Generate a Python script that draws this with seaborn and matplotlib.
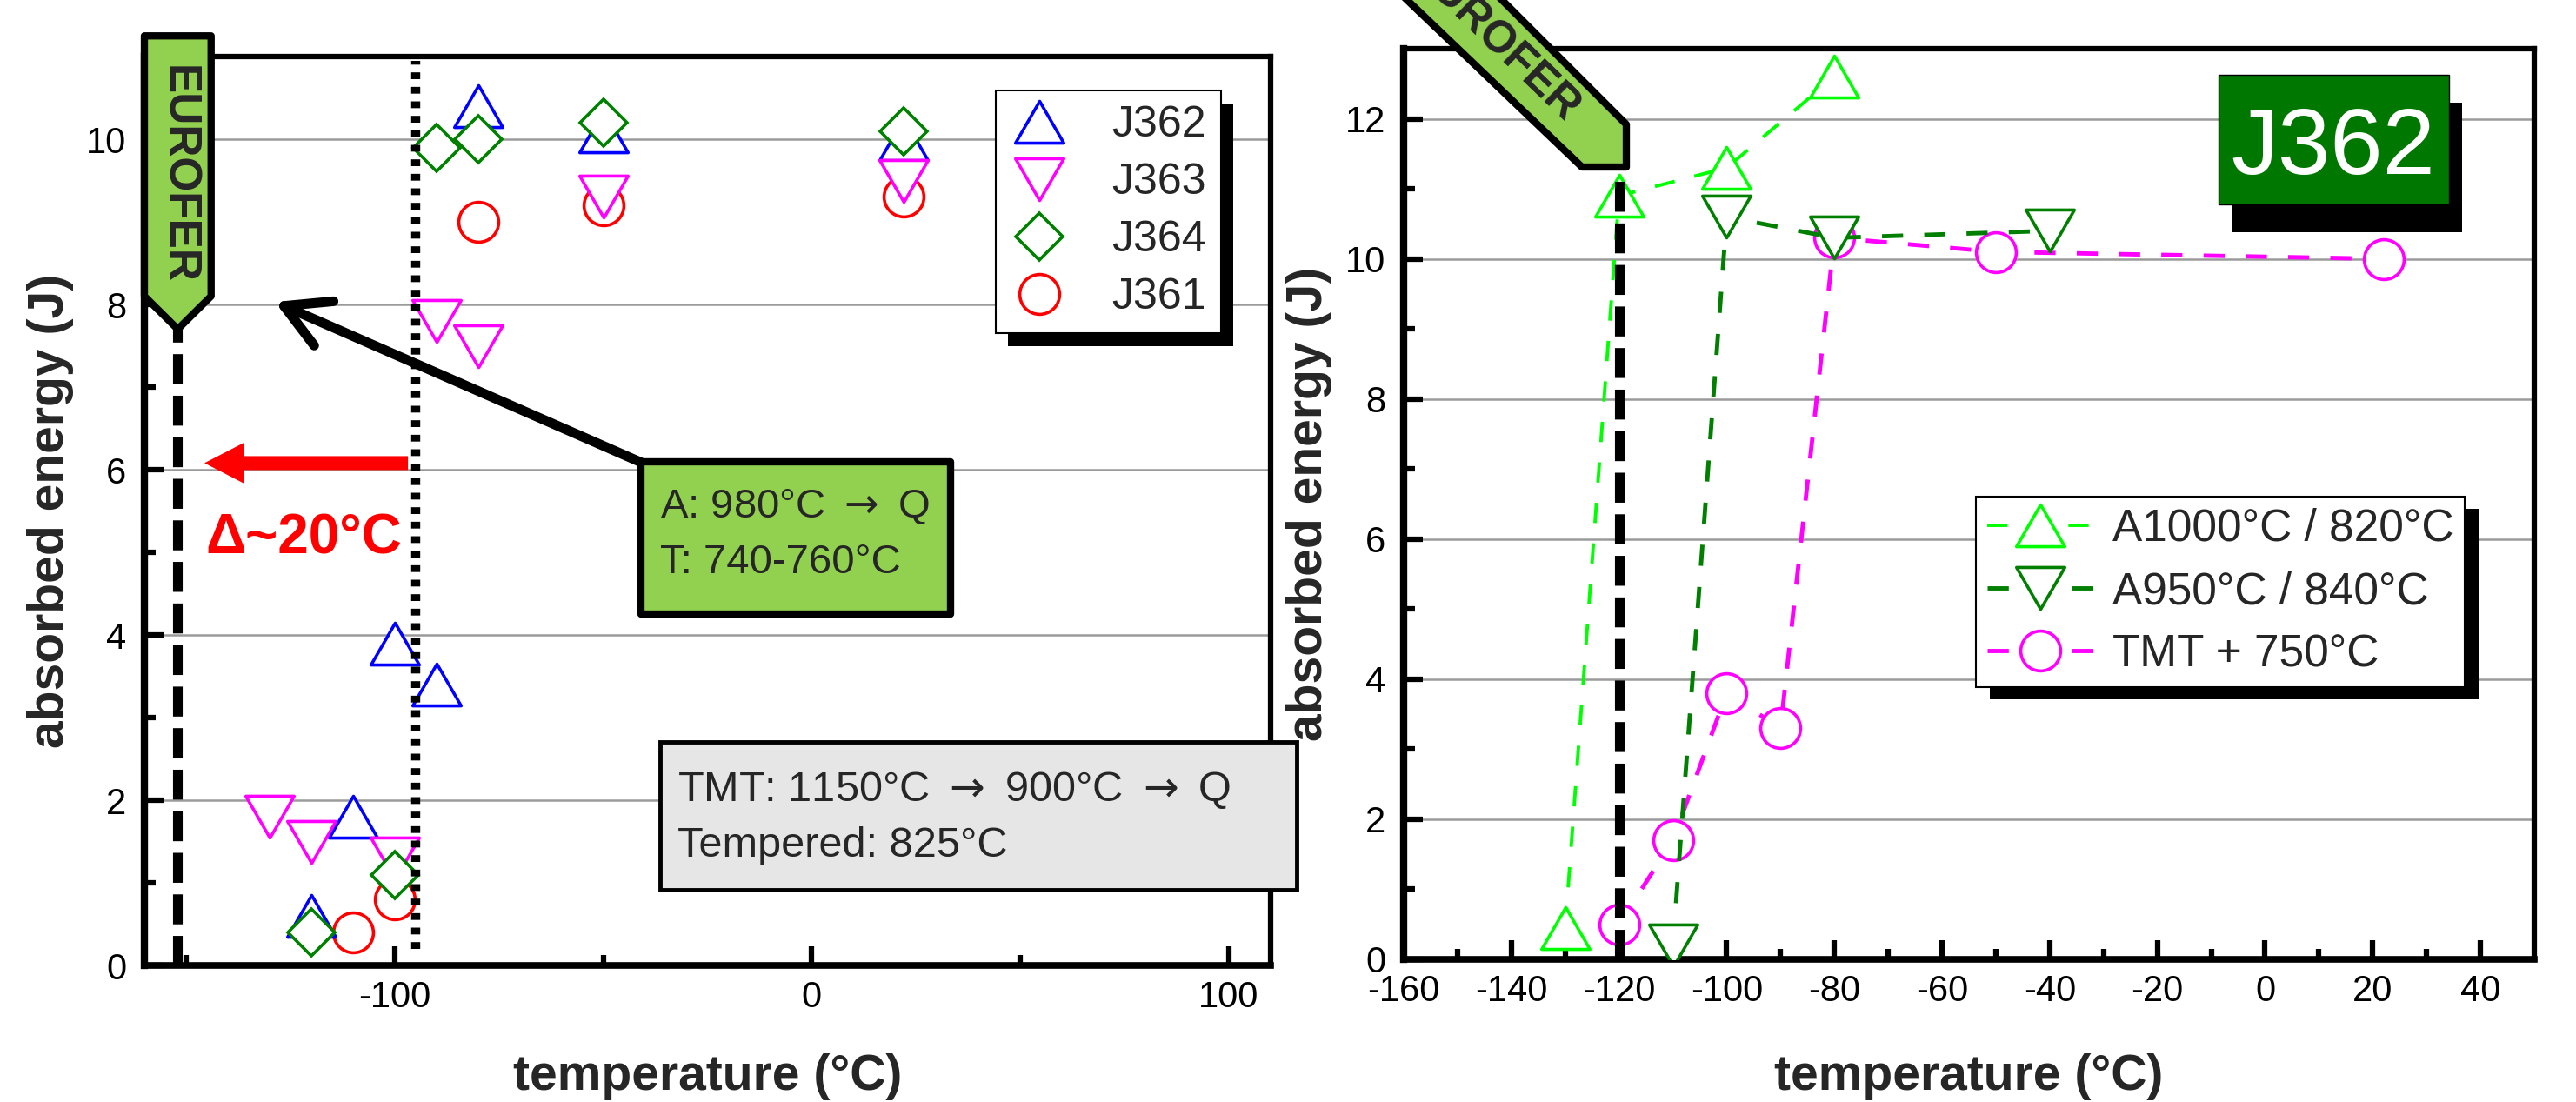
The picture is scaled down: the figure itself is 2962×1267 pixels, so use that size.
import numpy as np
import pandas as pd
import seaborn as sns
import matplotlib.pyplot as plt
from matplotlib.path import Path
from matplotlib.patches import Polygon, Rectangle
from matplotlib.transforms import IdentityTransform

# left panel: Charpy results of the four heats
j362_t = [-120, -110, -100, -90, -80, -50, 22]
j362_e = [0.6, 1.8, 3.9, 3.4, 10.4, 10.1, 10.0]
j363_t = [-130, -120, -100, -90, -80, -50, 22]
j363_e = [1.8, 1.5, 1.3, 7.8, 7.5, 9.3, 9.5]
j364_t = [-120, -100, -90, -80, -50, 22]
j364_e = [0.4, 1.1, 9.9, 10.0, 10.2, 10.1]
j361_t = [-110, -100, -80, -50, 22]
j361_e = [0.4, 0.8, 9.0, 9.2, 9.3]

# right panel: J362 after different heat treatments
a1000_t = [-130, -120, -100, -80]
a1000_e = [0.45, 10.9, 11.3, 12.6]
a950_t = [-110, -100, -80, -40]
a950_e = [0.2, 10.6, 10.3, 10.4]
tmt_t = [-120, -110, -100, -90, -80, -50, 22]
tmt_e = [0.5, 1.7, 3.8, 3.3, 10.3, 10.1, 10.0]

# transition temperatures marked with vertical lines
eurofer_left = -152
heats_dbtt = -95
eurofer_right = -120

sns.set_theme(style='white')
plt.rcParams['font.family'] = ['Liberation Sans', 'DejaVu Sans']
plt.rcParams['axes.unicode_minus'] = False

W, H = 2962, 1267
fig = plt.figure(figsize=(W / 100, H / 100), dpi=100)
ax1 = fig.add_axes([166 / W, 1 - 1110 / H, 1295 / W, 1045 / H])
ax2 = fig.add_axes([1614 / W, 1 - 1103 / H, 1300 / W, 1047 / H])

# equilateral triangles (matplotlib's ^ / v are as tall as wide)
tri_up = Path([(-1, -0.866), (1, -0.866), (0, 0.866), (0, 0)], closed=True)
tri_dn = Path([(-1, 0.866), (1, 0.866), (0, -0.866), (0, 0)], closed=True)
MEW = 2.6

left_series = [
    ('J361', j361_t, j361_e, 'o', '#ff0000', 33),
    ('J362', j362_t, j362_e, tri_up, '#0000ff', 40),
    ('J363', j363_t, j363_e, tri_dn, '#ff00ff', 40),
    ('J364', j364_t, j364_e, 'D', '#008000', 27),
]
for i, (name, t, e, mk, col, ms) in enumerate(left_series):
    sns.lineplot(x=t, y=e, ax=ax1, color=col, marker=mk, markersize=ms,
                 markerfacecolor='white', markeredgecolor=col,
                 markeredgewidth=MEW, linestyle='none', label=name,
                 zorder=3 + i * 0.1)

right_series = [
    ('TMT + 750°C', tmt_t, tmt_e, 'o', '#ff00ff', 33, 3.5, (0, (5, 5))),
    ('A950°C / 840°C', a950_t, a950_e, tri_dn, '#007f00', 40, 3.5, (0, (5, 5))),
    ('A1000°C / 820°C', a1000_t, a1000_e, tri_up, '#00ff00', 40, 2.8, (0, (6, 6))),
]
for i, (name, t, e, mk, col, ms, lw, ls) in enumerate(right_series):
    sns.lineplot(x=t, y=e, ax=ax2, color=col, marker=mk, markersize=ms,
                 markerfacecolor='white', markeredgecolor=col,
                 markeredgewidth=MEW, linestyle=ls, linewidth=lw, label=name,
                 zorder=3 + i * 0.1)


def style_axes(ax, xlim, ylim, xmaj, xmin, ymaj, ymin, xlab_y, ylab_x):
    ax.set_xlim(*xlim)
    ax.set_ylim(*ylim)
    ax.set_xticks(xmaj)
    ax.set_xticks(xmin, minor=True)
    ax.set_yticks(ymaj)
    ax.set_yticks(ymin, minor=True)
    ax.tick_params(which='both', direction='in', bottom=True, left=True,
                   top=False, right=False, width=4.5, color='black',
                   labelsize=30, labelcolor='black')
    ax.tick_params(which='major', length=16)
    ax.tick_params(which='minor', length=9)
    ax.tick_params(axis='x', pad=12)
    ax.tick_params(axis='y', pad=15)
    ax.set_axisbelow(True)
    ax.yaxis.grid(True, which='major', color='#9a9a9a', lw=1.8)
    ax.xaxis.grid(False)
    for side, w in [('left', 6), ('bottom', 5.5), ('top', 4.5), ('right', 4.5)]:
        ax.spines[side].set_visible(True)
        ax.spines[side].set_color('black')
        ax.spines[side].set_linewidth(w)
    ax.set_xlabel('temperature (°C)', fontsize=41, fontweight='bold', va='center')
    ax.set_ylabel('absorbed energy (J)', fontsize=41, fontweight='bold', va='center')
    ax.xaxis.set_label_coords(0.5, xlab_y)
    ax.yaxis.set_label_coords(ylab_x, 0.5)


style_axes(ax1, (-160, 110), (0, 11), [-100, 0, 100], [-150, -50, 50],
           range(0, 11, 2), range(1, 10, 2), -0.1225, -0.0834)
style_axes(ax2, (-160, 50), (0, 13), range(-160, 41, 20), range(-150, 41, 20),
           range(0, 13, 2), range(1, 12, 2), -0.129, -0.0838)

# legends
h, l = ax1.get_legend_handles_labels()
hd = dict(zip(l, h))
order1 = ['J362', 'J363', 'J364', 'J361']
leg1 = ax1.legend([hd[k] for k in order1], order1, loc='upper right',
                  bbox_to_anchor=(0.956, 0.9627), borderaxespad=0,
                  fancybox=False, framealpha=1, edgecolor='black',
                  fontsize=36, handlelength=1.3, handletextpad=1.0,
                  labelspacing=0.4, borderpad=0.35, numpoints=1)
leg1.get_frame().set_linewidth(1.5)

h, l = ax2.get_legend_handles_labels()
hd = dict(zip(l, h))
order2 = ['A1000°C / 820°C', 'A950°C / 840°C', 'TMT + 750°C']
leg2 = ax2.legend([hd[k] for k in order2], order2, loc='upper right',
                  bbox_to_anchor=(0.9385, 0.508), borderaxespad=0,
                  fancybox=False, framealpha=1, edgecolor='black',
                  fontsize=37, handlelength=2.4, handletextpad=0.4,
                  labelspacing=0.45, borderpad=0.25, numpoints=1)
leg2.get_frame().set_linewidth(1.5)

# ---- left panel annotations ----
ax1.plot([eurofer_left, eurofer_left], [0, 7.75], color='black', lw=8,
         ls=(0, (3.1, 1.2)), zorder=6)
ax1.plot([heats_dbtt, heats_dbtt], [0.2, 10.95], color='black', lw=7.5,
         ls=(0, (0.75, 0.85)), zorder=7)

banner = Polygon([(-160, 11.25), (-144, 11.25), (-144, 8.1), (eurofer_left, 7.7), (-160, 8.1)],
                 closed=True, facecolor='#92d050', edgecolor='black', lw=6,
                 joinstyle='round', clip_on=False, zorder=8)
ax1.add_patch(banner)
ax1.text(eurofer_left, 9.57, 'EUROFER', rotation=-90, ha='center', va='center',
         fontsize=37, fontweight='bold', zorder=9)

ax1.annotate('', xy=(-145.6, 6.08), xytext=(-96.8, 6.08),
             arrowprops=dict(arrowstyle='simple,head_length=3.3,head_width=3.4,tail_width=1.15',
                             color='red', lw=0, mutation_scale=10, shrinkA=0, shrinkB=0),
             zorder=6)
ax1.text(-121.7, 4.98, 'Δ~20°C', color='red', fontsize=46, fontweight='bold',
         ha='center', va='baseline', zorder=6)

ax1.annotate('', xy=(-128.7, 8.03), xytext=(-41, 6.09),
             arrowprops=dict(arrowstyle='->,head_length=0.9,head_width=0.5',
                             color='black', lw=8, mutation_scale=40,
                             shrinkA=0, shrinkB=0),
             zorder=5.5)
ax1.add_patch(Rectangle((0.441, 0.387), 0.275, 0.167, transform=ax1.transAxes,
                        facecolor='#92d050', edgecolor='black', lw=6,
                        joinstyle='round', zorder=6))
ax1.text(0.458, 0.504, r'A: 980°C $\rightarrow$ Q', transform=ax1.transAxes,
         fontsize=34, va='center', zorder=7)
ax1.text(0.458, 0.443, 'T: 740-760°C', transform=ax1.transAxes, fontsize=34,
         va='center', zorder=7)

ax1.add_patch(Rectangle((0.458, 0.083), 0.565, 0.163, transform=ax1.transAxes,
                        facecolor='#e6e6e6', edgecolor='black', lw=3.5,
                        clip_on=False, zorder=6))
ax1.text(0.473, 0.193, r'TMT: 1150°C $\rightarrow$ 900°C $\rightarrow$ Q',
         transform=ax1.transAxes, fontsize=35, va='center', zorder=7)
ax1.text(0.473, 0.132, 'Tempered: 825°C', transform=ax1.transAxes,
         fontsize=35, va='center', zorder=7)

# ---- right panel annotations ----
ax2.plot([eurofer_right, eurofer_right], [0, 11.3], color='black', lw=8,
         ls=(0, (3.1, 1.2)), zorder=7)


def fig_xy(px, py):
    return (px / W, 1 - py / H)


banner2 = Polygon([fig_xy(1819, 192), fig_xy(1870, 192), fig_xy(1870, 143),
                   fig_xy(1687, -40), fig_xy(1576, -40)],
                  closed=True, transform=fig.transFigure, facecolor='#92d050',
                  edgecolor='black', lw=6, joinstyle='round', clip_on=False, zorder=8)
ax2.add_patch(banner2)
fig.text(*fig_xy(1808, 133), 'EUROFER', rotation=-44, rotation_mode='anchor',
         ha='right', va='center', fontsize=37, fontweight='bold', zorder=9)

ax2.add_patch(Rectangle((0.7323, 0.7985), 0.2038, 0.1423, transform=ax2.transAxes,
                        facecolor='black', edgecolor='none', zorder=5.9))
ax2.add_patch(Rectangle((0.7208, 0.829), 0.2038, 0.1423, transform=ax2.transAxes,
                        facecolor='#007800', edgecolor='black', lw=1, zorder=6))
ax2.text(0.822, 0.8625, 'J362', transform=ax2.transAxes, color='white',
         fontsize=78, ha='center', va='baseline', zorder=7)

# black drop shadows behind the legends
fig.canvas.draw()
r = fig.canvas.get_renderer()
for ax, leg, dx, dy in [(ax1, leg1, 14, 15), (ax2, leg2, 16, 14)]:
    bb = leg.get_frame().get_window_extent(r)
    ax.add_patch(Rectangle((bb.x0 + dx, bb.y0 - dy), bb.width, bb.height,
                           transform=IdentityTransform(), facecolor='black',
                           edgecolor='none', zorder=4.9, clip_on=False))

fig.savefig('out.png', dpi=100)
